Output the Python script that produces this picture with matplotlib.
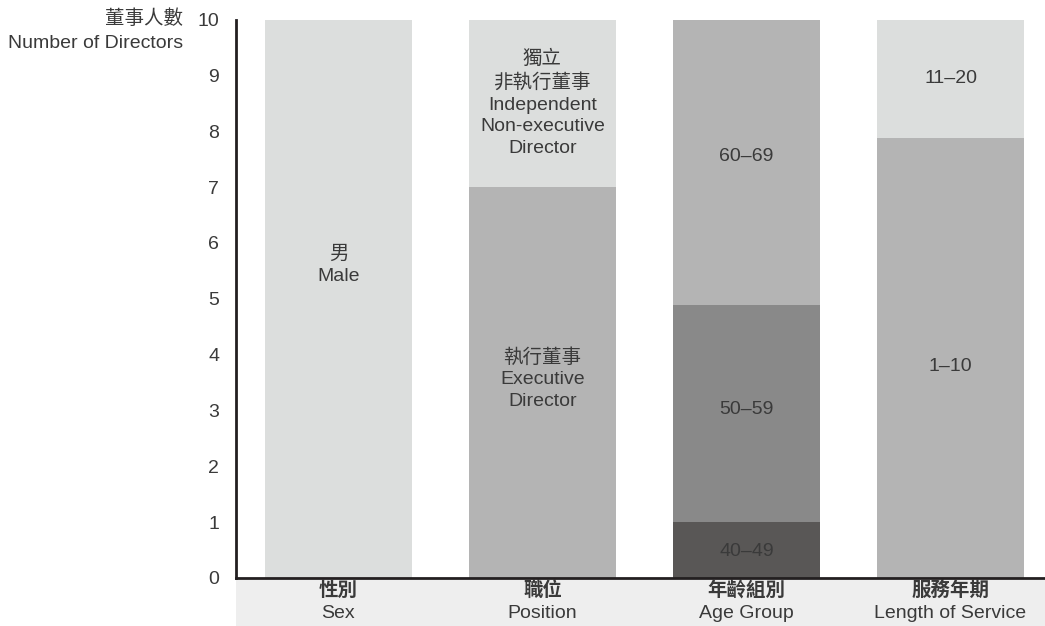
import matplotlib
matplotlib.use("Agg")
import matplotlib.pyplot as plt
import matplotlib.transforms as mtransforms
from matplotlib.patches import Rectangle

plt.rcParams["font.family"] = ["Liberation Sans", "Noto Sans CJK TC", "DejaVu Sans"]

# data
categories_zh = ["性別", "職位", "年齡組別", "服務年期"]
categories_en = ["Sex", "Position", "Age Group", "Length of Service"]

# segments per category, bottom to top
sex_values = [10]
sex_labels = ["男\nMale"]
position_values = [7, 3]
position_labels = ["執行董事\nExecutive\nDirector",
                   "獨立\n非執行董事\nIndependent\nNon-executive\nDirector"]
age_values = [1, 3.88, 5.12]
age_labels = ["40–49", "50–59", "60–69"]
service_values = [7.88, 2.12]
service_labels = ["1–10", "11–20"]

segments = [
    (sex_values, sex_labels, ["#dcdedd"]),
    (position_values, position_labels, ["#b4b4b4", "#dcdedd"]),
    (age_values, age_labels, ["#595756", "#898989", "#b4b4b4"]),
    (service_values, service_labels, ["#b4b4b4", "#dcdedd"]),
]
# where each label sits inside its segment (fraction of height)
label_pos = [
    [0.56],
    [0.51, 0.5],
    [0.48, 0.52, 0.52],
    [0.48, 0.5],
]

text_color = "#3a3a3a"
fs = 14

fig = plt.figure(figsize=(10.45, 6.26), dpi=100)
ax = fig.add_axes([236 / 1045, 1 - 578 / 626, 1 - 236 / 1045, (578 - 19.5) / 626])

width = 147 / 204
for i, (vals, labs, cols) in enumerate(segments):
    bottom = 0
    for j, (v, lab, c) in enumerate(zip(vals, labs, cols)):
        ax.bar(i, v, width=width, bottom=bottom, color=c, edgecolor="none", zorder=1)
        ax.text(i, bottom + v * label_pos[i][j], lab, ha="center", va="center",
                fontsize=fs, color=text_color, linespacing=1.35, zorder=3)
        bottom += v

ax.set_xlim(-0.502, 3.463)
ax.set_ylim(0, 10)
ax.set_yticks(range(0, 11))
ax.tick_params(axis="y", length=0, pad=12, labelsize=fs, labelcolor=text_color)
ax.set_xticks([])
for s in ["top", "right"]:
    ax.spines[s].set_visible(False)
for s in ["left", "bottom"]:
    ax.spines[s].set_linewidth(2)
    ax.spines[s].set_color("#231f20")
    ax.spines[s].set_zorder(4)

# grey band with category labels
band = Rectangle((236 / 1045, 0), 1 - 236 / 1045, 46 / 626, transform=fig.transFigure,
                 facecolor="#eeeeee", edgecolor="none", zorder=-1)
fig.patches.append(band)
trans = mtransforms.blended_transform_factory(ax.transData, fig.transFigure)
for i, (zh, en) in enumerate(zip(categories_zh, categories_en)):
    ax.text(i, 1 - 591 / 626, zh, transform=trans, ha="center", va="center",
            fontsize=fs, fontweight="bold", color=text_color)
    ax.text(i, 1 - 613 / 626, en, transform=trans, ha="center", va="center",
            fontsize=fs, color=text_color)

# y-axis title
fig.text(183 / 1045, 1 - 19 / 626, "董事人數", ha="right", va="center",
         fontsize=fs, color=text_color)
fig.text(183 / 1045, 1 - 43 / 626, "Number of Directors", ha="right", va="center",
         fontsize=fs, color=text_color)

fig.savefig("out.png", dpi=100)
